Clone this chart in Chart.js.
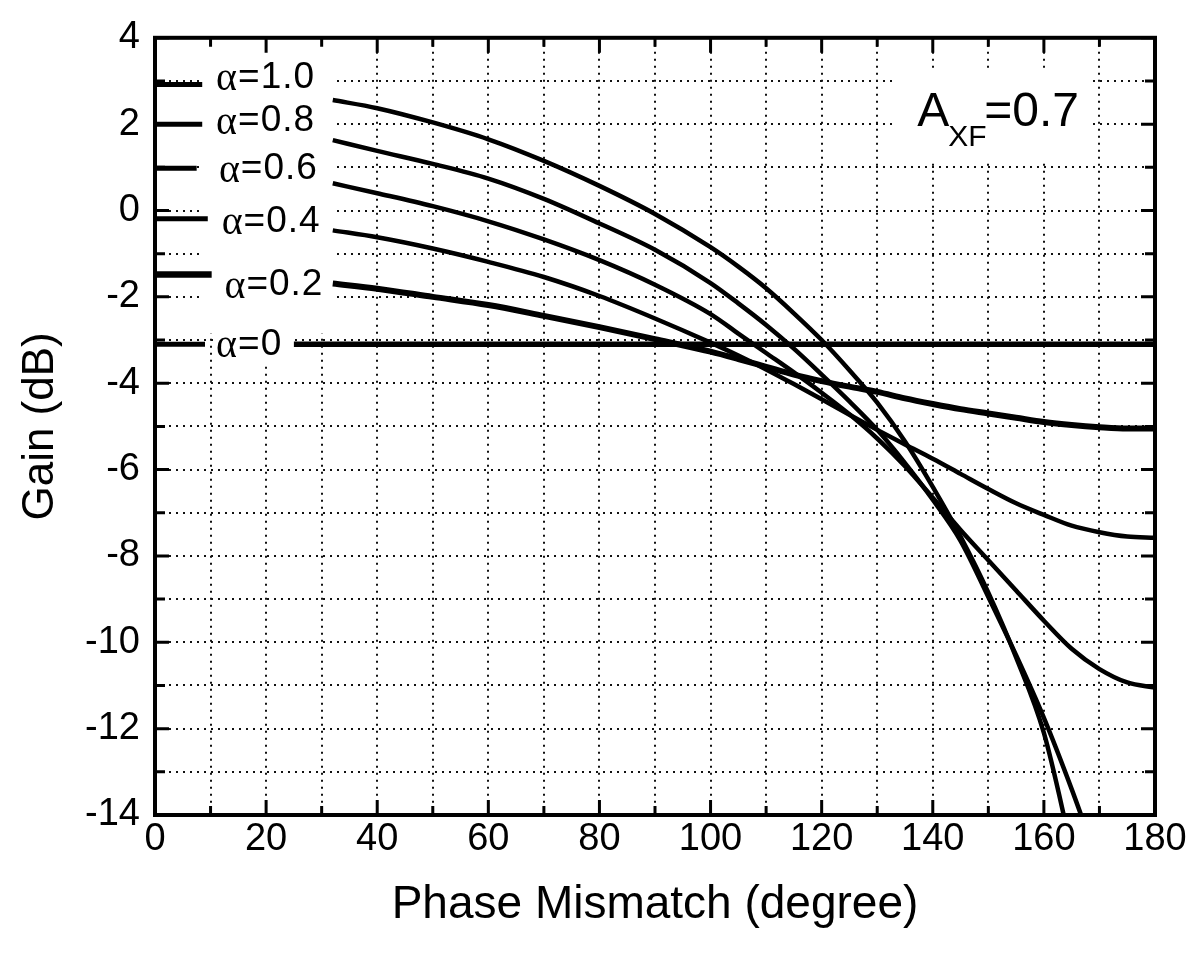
<!DOCTYPE html>
<html>
<head>
<meta charset="utf-8">
<script src="https://cdn.jsdelivr.net/npm/chart.js@4.4.1/dist/chart.umd.min.js"></script>
<style>
  html, body { margin: 0; padding: 0; background: #fff; }
  #wrap { width: 1196px; height: 955px; }
</style>
</head>
<body>
<div id="wrap"><canvas id="gainChart"></canvas></div>
<script>
const phase = [25, 32, 40, 50, 60, 70, 80, 90, 100, 105, 110, 115, 120, 125, 130, 135, 140, 145, 150, 155, 160, 165, 170, 175, 180];

// gain (dB) for each alpha
const gainA10 = [null, 2.56, 2.37, 2.04, 1.65, 1.15, 0.57, -0.08, -0.85, -1.3, -1.8, -2.38, -3.0, -3.7, -4.45, -5.35, -6.4, -7.55, -8.85, -10.35, -12.1, -14.8, null, null, null];
const gainA08 = [null, 1.63, 1.38, 1.08, 0.74, 0.27, -0.3, -0.91, -1.68, -2.15, -2.65, -3.2, -3.8, -4.42, -5.08, -5.85, -6.7, -7.65, -8.95, -10.3, -11.75, -13.4, -15.2, null, null];
const gainA06 = [null, 0.63, 0.4, 0.1, -0.25, -0.67, -1.15, -1.72, -2.4, -2.85, -3.3, -3.75, -4.22, -4.72, -5.28, -5.92, -6.65, -7.4, -8.1, -8.8, -9.5, -10.15, -10.62, -10.93, -11.05];
const gainA04 = [null, -0.46, -0.62, -0.88, -1.19, -1.54, -1.98, -2.5, -3.06, -3.36, -3.68, -4.02, -4.37, -4.73, -5.08, -5.42, -5.75, -6.1, -6.45, -6.78, -7.05, -7.3, -7.45, -7.55, -7.58];
const gainA02 = [null, -1.69, -1.81, -2.0, -2.19, -2.44, -2.7, -2.98, -3.27, -3.44, -3.62, -3.8, -3.95, -4.08, -4.2, -4.35, -4.48, -4.6, -4.7, -4.8, -4.9, -4.97, -5.02, -5.05, -5.05];
const gainA00 = [-3.1, -3.1, -3.1, -3.1, -3.1, -3.1, -3.1, -3.1, -3.1, -3.1, -3.1, -3.1, -3.1, -3.1, -3.1, -3.1, -3.1, -3.1, -3.1, -3.1, -3.1, -3.1, -3.1, -3.1, -3.1];

// short key segments at the left edge
const alphaNames = ['α=1.0', 'α=0.8', 'α=0.6', 'α=0.4', 'α=0.2', 'α=0'];
const markerGain = [2.92, 2.0, 0.98, -0.19, -1.48, -3.1];
const markerEnd = [8.5, 8.5, 7.5, 9.5, 10.2, 9];

const xTicks = [0, 20, 40, 60, 80, 100, 120, 140, 160, 180];
const yTicks = [4, 2, 0, -2, -4, -6, -8, -10, -12, -14];

function pts(ys) {
  return phase.map((p, i) => ({ x: p, y: ys[i] }));
}

const curves = [gainA10, gainA08, gainA06, gainA04, gainA02, gainA00];
const widths = [4.5, 4.5, 4.5, 4.5, 6, 5.5];

const datasets = curves.map((g, i) => ({
  label: alphaNames[i],
  data: pts(g),
  borderColor: '#000',
  borderWidth: widths[i],
  pointRadius: 0,
  cubicInterpolationMode: 'monotone',
  fill: false,
  clip: 0
}));

markerGain.forEach((g, i) => {
  datasets.push({
    label: alphaNames[i] + ' key',
    data: [{ x: 0, y: g }, { x: markerEnd[i], y: g }],
    borderColor: '#000',
    borderWidth: i === 4 ? 6.5 : 5,
    pointRadius: 0,
    fill: false,
    clip: 0
  });
});

const SANS = '"Liberation Sans", Arial, sans-serif';

// labels, frame and inside ticks
const decor = {
  id: 'decor',
  beforeDatasetsDraw(chart) {
    const { ctx, scales: { x, y } } = chart;
    ctx.save();
    ctx.fillStyle = '#fff';
    // white area behind the alpha labels
    let l = x.getPixelForValue(8), r = x.getPixelForValue(32.5);
    let t = y.getPixelForValue(3.85), b = y.getPixelForValue(-2.85);
    ctx.fillRect(l, t, r - l, b - t);
    l = x.getPixelForValue(10.5); r = x.getPixelForValue(24.5);
    t = y.getPixelForValue(-2.6); b = y.getPixelForValue(-3.6);
    ctx.fillRect(l, t, r - l, b - t);
    // white area behind A_XF
    l = x.getPixelForValue(133); r = x.getPixelForValue(168.5);
    t = y.getPixelForValue(3.25); b = y.getPixelForValue(1.15);
    ctx.fillRect(l, t, r - l, b - t);

    // alpha labels
    const labelX = [11, 11, 11.5, 12, 12.5, 11];
    const labelY = [3.08, 2.07, 0.96, -0.26, -1.73, -3.11];
    ctx.fillStyle = '#000';
    ctx.textBaseline = 'middle';
    ctx.textAlign = 'left';
    alphaNames.forEach((name, i) => {
      let px = x.getPixelForValue(labelX[i]);
      const py = y.getPixelForValue(labelY[i]);
      ctx.font = '40px "Liberation Serif", "Times New Roman", serif';
      ctx.fillText('α', px, py + 2);
      px += ctx.measureText('α').width + 1;
      ctx.font = '37px ' + SANS;
      ctx.letterSpacing = '1px';
      ctx.fillText(name.slice(1), px, py);
      ctx.letterSpacing = '0px';
    });

    // A_XF = 0.7
    const ax = x.getPixelForValue(137.2);
    const ay = y.getPixelForValue(1.95);
    ctx.textBaseline = 'alphabetic';
    ctx.font = '48px ' + SANS;
    ctx.fillText('A', ax, ay);
    ctx.font = '30px ' + SANS;
    ctx.fillText('XF', ax + 31, ay + 20);
    ctx.font = '48px ' + SANS;
    ctx.fillText('=0.7', ax + 67, ay);
    ctx.restore();
  },
  afterDraw(chart) {
    const { ctx, chartArea: a, scales: { x, y } } = chart;
    ctx.save();
    ctx.strokeStyle = '#000';
    ctx.lineWidth = 3;
    ctx.beginPath();
    x.ticks.forEach(tk => {
      const px = x.getPixelForValue(tk.value);
      const len = tk.value % 20 === 0 ? 15 : 9;
      ctx.moveTo(px, a.bottom);
      ctx.lineTo(px, a.bottom - len);
      ctx.moveTo(px, a.top);
      ctx.lineTo(px, a.top + len);
    });
    y.ticks.forEach(tk => {
      const py = y.getPixelForValue(tk.value);
      const len = tk.value % 2 === 0 ? 14 : 10;
      ctx.moveTo(a.left, py);
      ctx.lineTo(a.left + len, py);
      ctx.moveTo(a.right, py);
      ctx.lineTo(a.right - len, py);
    });
    ctx.stroke();
    ctx.lineWidth = 4;
    ctx.strokeRect(a.left, a.top, a.right - a.left, a.bottom - a.top);
    ctx.restore();
  }
};

const gridStyle = {
  color: '#111',
  lineWidth: 2,
  drawTicks: false
};

new Chart(document.getElementById('gainChart'), {
  type: 'line',
  data: { datasets: datasets },
  options: {
    responsive: true,
    maintainAspectRatio: false,
    animation: false,
    events: [],
    layout: { padding: { left: 0, top: 33, right: 41, bottom: 0 } },
    plugins: {
      legend: { display: false },
      tooltip: { enabled: false }
    },
    scales: {
      x: {
        type: 'linear',
        min: 0,
        max: 180,
        afterFit(axis) { axis.height = 140; },
        border: { display: false, dash: [2, 5] },
        grid: gridStyle,
        ticks: {
          stepSize: 10,
          autoSkip: false,
          maxRotation: 0,
          padding: 2,
          color: '#000',
          font: { family: SANS, size: 38 },
          callback: v => xTicks.includes(v) ? String(v) : ''
        },
        title: {
          display: true,
          text: 'Phase Mismatch (degree)',
          color: '#000',
          font: { family: SANS, size: 46 },
          padding: { top: 0, bottom: 22 }
        }
      },
      y: {
        type: 'linear',
        min: -14,
        max: 4,
        afterFit(axis) { axis.width = 155; },
        border: { display: false, dash: [2, 5] },
        grid: gridStyle,
        ticks: {
          stepSize: 1,
          autoSkip: false,
          padding: 15,
          color: '#000',
          font: { family: SANS, size: 38 },
          callback: v => yTicks.includes(v) ? String(v) : ''
        },
        title: {
          display: true,
          text: 'Gain (dB)',
          color: '#000',
          font: { family: SANS, size: 44 },
          padding: { top: 14, bottom: 0 }
        }
      }
    }
  },
  plugins: [decor]
});
</script>
</body>
</html>
